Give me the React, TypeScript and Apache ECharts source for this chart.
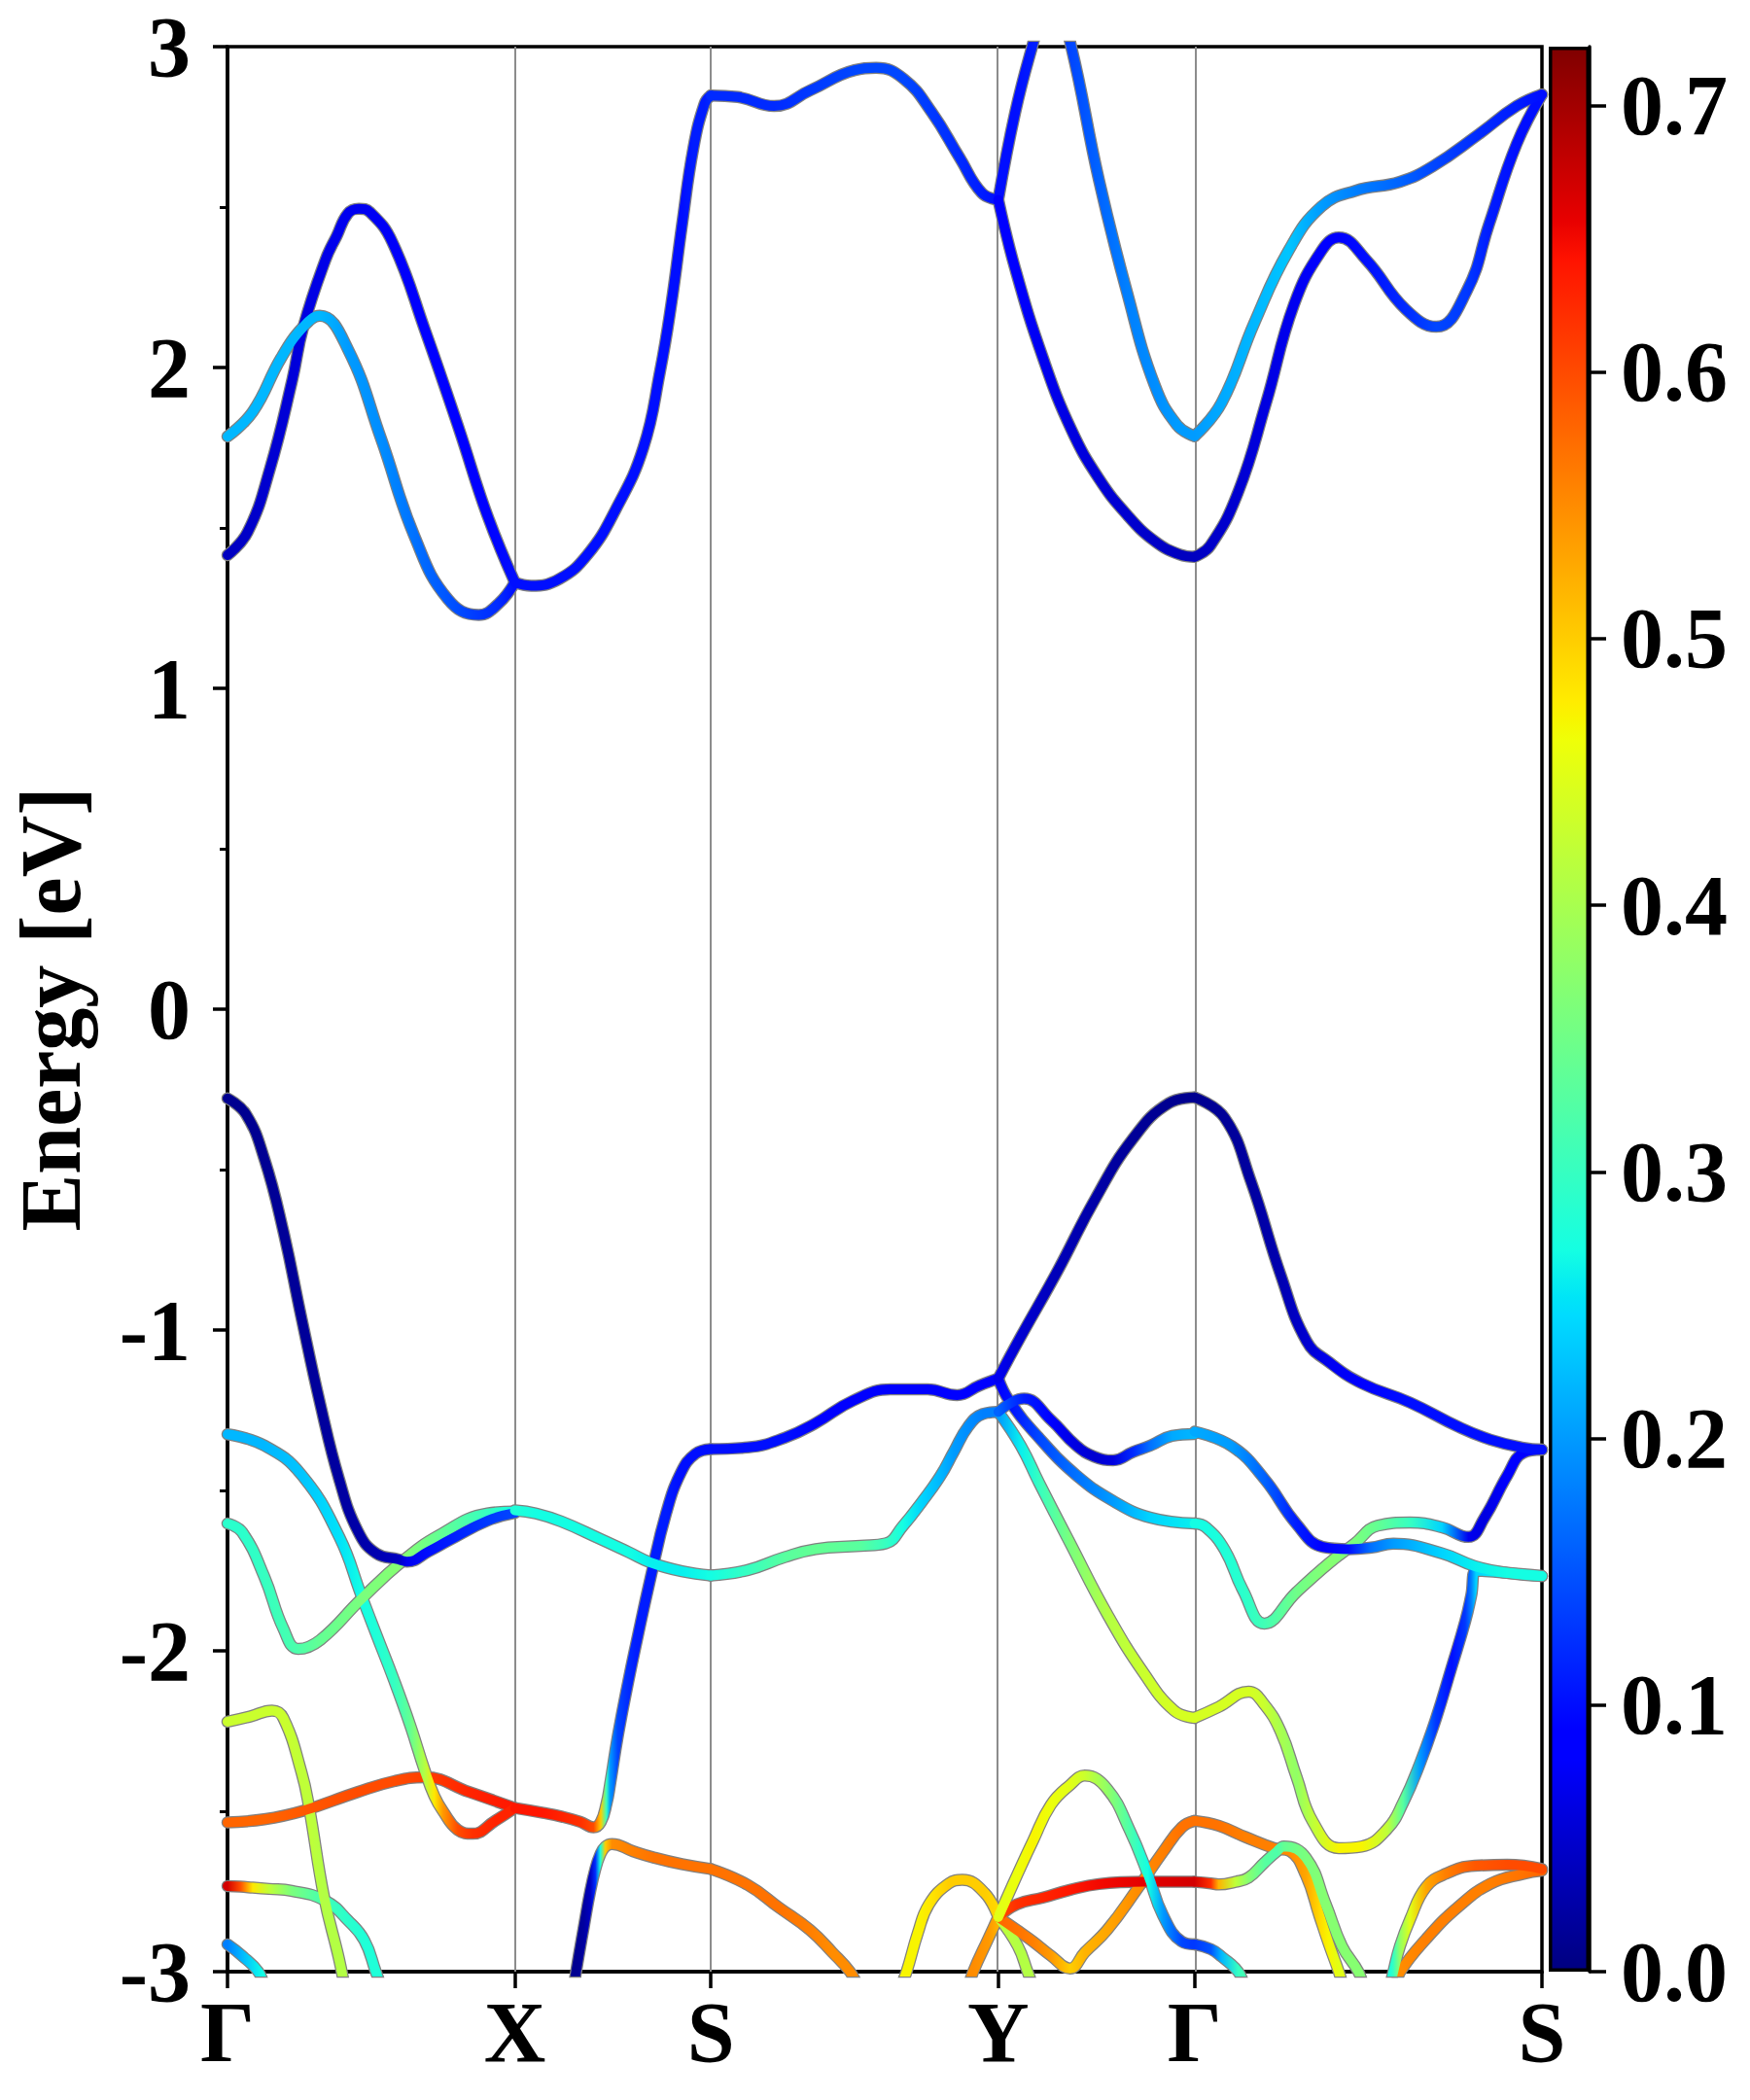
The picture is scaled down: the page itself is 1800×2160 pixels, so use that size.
import React, { useEffect, useRef } from "react";
import * as echarts from "echarts";

// High-symmetry path (k-path distance, Γ–X = 1)
const HS_K = [0, 1, 1.682, 2.682, 3.365, 4.574];
const HS_LABELS = ["Γ", "X", "S", "Y", "Γ", "S"];
const E_TICKS_MIN = -3;
const E_TICKS_MAX = 3;
const W_MAX = 0.722;
const CBAR_TICKS = [0, 0.1, 0.2, 0.3, 0.4, 0.5, 0.6, 0.7];

// Each band piece: [k, energy (eV), weight]
// Γ–X
const GX1 = [[0,1.415,0.04],[0.07,1.487,0.045],[0.147,1.682,0.05],[0.225,1.96,0.055],[0.264,2.127,0.06],[0.341,2.336,0.065],[0.38,2.41,0.068],[0.419,2.48,0.07],[0.457,2.495,0.07],[0.496,2.484,0.072],[0.574,2.39,0.075],[0.689,2.112,0.08],[0.806,1.807,0.085],[0.903,1.542,0.09],[1,1.33,0.1]];
const GX2 = [[0,1.785,0.22],[0.088,1.862,0.22],[0.186,2.029,0.22],[0.264,2.127,0.22],[0.321,2.161,0.22],[0.419,2.057,0.2],[0.534,1.779,0.19],[0.651,1.473,0.17],[0.767,1.278,0.15],[0.874,1.229,0.13],[0.943,1.264,0.12],[1,1.33,0.1]];
const GX3 = [[0,-0.278,0.01],[0.064,-0.327,0.01],[0.128,-0.466,0.012],[0.193,-0.687,0.015],[0.258,-0.965,0.015],[0.323,-1.232,0.018],[0.388,-1.464,0.02],[0.453,-1.626,0.025],[0.517,-1.696,0.03],[0.595,-1.715,0.04],[0.625,-1.722,0.07],[0.7,-1.69,0.1],[0.776,-1.653,0.11],[0.905,-1.594,0.13],[1,-1.57,0.14]];
const GX4 = [[0,-1.325,0.22],[0.128,-1.36,0.22],[0.258,-1.452,0.23],[0.389,-1.645,0.25],[0.466,-1.828,0.27],[0.517,-1.947,0.28],[0.581,-2.095,0.3],[0.635,-2.23,0.34],[0.686,-2.372,0.41],[0.72,-2.453,0.48],[0.75,-2.5,0.54],[0.801,-2.558,0.6],[0.853,-2.57,0.62],[0.931,-2.53,0.63],[1,-2.49,0.63]];
const GX5 = [[0,-2.535,0.58],[0.128,-2.525,0.58],[0.258,-2.5,0.59],[0.453,-2.44,0.6],[0.581,-2.406,0.6],[0.686,-2.394,0.61],[0.841,-2.44,0.63],[1,-2.49,0.64]];
const GX6 = [[0,-1.603,0.29],[0.051,-1.63,0.29],[0.128,-1.769,0.3],[0.194,-1.93,0.31],[0.246,-1.994,0.32],[0.323,-1.966,0.34],[0.466,-1.838,0.36],[0.608,-1.721,0.37],[0.736,-1.64,0.34],[0.905,-1.572,0.3],[1,-1.566,0.27]];
const GX7 = [[0,-2.221,0.43],[0.078,-2.205,0.43],[0.155,-2.186,0.43],[0.194,-2.209,0.43],[0.258,-2.38,0.42],[0.284,-2.488,0.42],[0.336,-2.767,0.41],[0.388,-2.96,0.41],[0.41,-3.06,0.41]];
const GX8 = [[0,-2.733,0.67],[0.044,-2.735,0.6],[0.088,-2.738,0.48],[0.145,-2.742,0.42],[0.223,-2.748,0.36],[0.341,-2.779,0.31],[0.419,-2.84,0.29],[0.476,-2.902,0.28],[0.516,-3.0,0.28],[0.54,-3.06,0.28]];
const GX9 = [[0,-2.915,0.18],[0.05,-2.95,0.22],[0.107,-3.0,0.26],[0.125,-3.04,0.27]];
// X–S
const XS1 = [[1,1.33,0.1],[1.057,1.32,0.1],[1.155,1.341,0.1],[1.253,1.417,0.1],[1.35,1.556,0.1],[1.447,1.75,0.1],[1.505,1.987,0.1],[1.544,2.196,0.1],[1.582,2.447,0.1],[1.621,2.683,0.11],[1.66,2.822,0.11],[1.682,2.848,0.12]];
const XS2 = [[1,-1.562,0.28],[1.074,-1.572,0.27],[1.162,-1.597,0.27],[1.294,-1.65,0.27],[1.395,-1.692,0.27],[1.473,-1.725,0.26],[1.581,-1.752,0.26],[1.682,-1.765,0.27]];
const XS3 = [[1,-2.49,0.64],[1.098,-2.505,0.64],[1.164,-2.517,0.63],[1.228,-2.533,0.62],[1.274,-2.55,0.6],[1.299,-2.533,0.5],[1.319,-2.476,0.3],[1.331,-2.418,0.2],[1.358,-2.267,0.14],[1.395,-2.094,0.12],[1.422,-1.978,0.11],[1.473,-1.769,0.11],[1.526,-1.572,0.11],[1.578,-1.444,0.1],[1.628,-1.386,0.1],[1.682,-1.371,0.1]];
const XS4 = [[1.205,-3.05,0.01],[1.213,-3.0,0.01],[1.24,-2.86,0.02],[1.262,-2.75,0.04],[1.28,-2.68,0.12],[1.297,-2.635,0.27],[1.315,-2.61,0.5],[1.338,-2.602,0.55],[1.412,-2.625,0.56],[1.486,-2.645,0.57],[1.581,-2.665,0.57],[1.682,-2.68,0.57]];
// S–Y
const SY1 = [[1.682,2.848,0.12],[1.776,2.843,0.12],[1.902,2.815,0.12],[2.028,2.864,0.13],[2.183,2.927,0.14],[2.257,2.934,0.14],[2.354,2.899,0.14],[2.451,2.795,0.13],[2.547,2.655,0.12],[2.625,2.544,0.11],[2.682,2.523,0.1]];
const SY2 = [[1.682,-1.371,0.1],[1.811,-1.366,0.1],[1.939,-1.336,0.1],[2.047,-1.29,0.09],[2.177,-1.22,0.09],[2.307,-1.185,0.09],[2.436,-1.185,0.09],[2.539,-1.203,0.09],[2.617,-1.173,0.09],[2.682,-1.151,0.09]];
const SY3 = [[1.682,-1.765,0.27],[1.811,-1.748,0.3],[1.939,-1.708,0.33],[2.047,-1.683,0.34],[2.203,-1.673,0.33],[2.291,-1.665,0.3],[2.351,-1.61,0.27],[2.416,-1.536,0.24],[2.48,-1.456,0.22],[2.527,-1.38,0.2],[2.578,-1.3,0.19],[2.628,-1.262,0.18],[2.682,-1.255,0.18]];
const SY4 = [[1.682,-2.68,0.57],[1.811,-2.73,0.57],[1.919,-2.8,0.57],[2.027,-2.87,0.56],[2.105,-2.94,0.55],[2.166,-3.0,0.55],[2.19,-3.04,0.55]];
const SY5 = [[2.34,-3.05,0.47],[2.363,-3.0,0.47],[2.402,-2.88,0.47],[2.441,-2.79,0.48],[2.51,-2.725,0.5],[2.557,-2.714,0.5],[2.635,-2.755,0.5],[2.682,-2.83,0.49]];
const SY6 = [[2.578,-3.05,0.55],[2.595,-3.0,0.55],[2.649,-2.894,0.54],[2.682,-2.83,0.52]];
// Y–Γ
const YG1 = [[2.682,2.523,0.1],[2.741,2.795,0.1],[2.8,3.0,0.11],[2.868,3.2,0.12],[2.936,3.0,0.14],[3.032,2.586,0.16],[3.129,2.238,0.18],[3.226,1.946,0.19],[3.304,1.821,0.2],[3.365,1.786,0.2]];
const YG2 = [[2.682,2.523,0.09],[2.741,2.308,0.08],[2.838,2.029,0.07],[2.936,1.807,0.06],[3.032,1.654,0.055],[3.129,1.542,0.05],[3.226,1.459,0.045],[3.314,1.417,0.04],[3.365,1.41,0.04]];
const YG3 = [[2.682,-1.151,0.07],[2.759,-1.023,0.05],[2.889,-0.815,0.035],[3.018,-0.594,0.025],[3.147,-0.408,0.015],[3.276,-0.293,0.01],[3.365,-0.275,0.01]];
const YG4 = [[2.682,-1.151,0.09],[2.72,-1.22,0.1],[2.824,-1.336,0.14],[2.953,-1.452,0.17],[3.082,-1.533,0.2],[3.212,-1.585,0.24],[3.365,-1.603,0.26]];
const YG5 = [[2.682,-1.255,0.16],[2.73,-1.225,0.13],[2.772,-1.214,0.11],[2.865,-1.28,0.08],[2.953,-1.36,0.06],[3.017,-1.395,0.05],[3.082,-1.406,0.06],[3.152,-1.38,0.12],[3.212,-1.36,0.17],[3.287,-1.33,0.21],[3.365,-1.324,0.22]];
const YG6 = [[2.682,-1.255,0.2],[2.76,-1.36,0.26],[2.824,-1.476,0.3],[2.932,-1.664,0.36],[3.061,-1.885,0.41],[3.189,-2.07,0.43],[3.294,-2.186,0.44],[3.365,-2.209,0.44]];
const YG7 = [[2.682,-2.83,0.45],[2.747,-2.7,0.46],[2.803,-2.592,0.47],[2.865,-2.48,0.46],[2.932,-2.418,0.45],[2.983,-2.389,0.43],[3.061,-2.43,0.38],[3.139,-2.558,0.32],[3.203,-2.697,0.27],[3.255,-2.824,0.2],[3.32,-2.906,0.14],[3.365,-2.915,0.13]];
const YG8 = [[2.682,-2.83,0.6],[2.747,-2.79,0.62],[2.838,-2.769,0.63],[2.932,-2.745,0.64],[3.032,-2.727,0.65],[3.187,-2.72,0.66],[3.365,-2.72,0.67]];
const YG9 = [[2.682,-2.83,0.58],[2.747,-2.87,0.57],[2.803,-2.906,0.56],[2.865,-2.95,0.54],[2.932,-2.99,0.5],[2.983,-2.94,0.52],[3.061,-2.87,0.53],[3.166,-2.742,0.55],[3.255,-2.627,0.56],[3.321,-2.55,0.57],[3.365,-2.53,0.57]];
const YG10 = [[2.682,-2.83,0.42],[2.75,-2.92,0.41],[2.784,-3.0,0.41],[2.8,-3.04,0.41]];
// Γ–S
const GS1 = [[3.365,1.41,0.04],[3.42,1.445,0.045],[3.517,1.612,0.05],[3.614,1.89,0.06],[3.711,2.196,0.07],[3.807,2.364,0.08],[3.867,2.405,0.085],[3.963,2.335,0.1],[4.099,2.182,0.12],[4.206,2.127,0.14],[4.312,2.238,0.13],[4.39,2.447,0.11],[4.486,2.697,0.1],[4.574,2.851,0.1]];
const GS2 = [[3.365,1.786,0.2],[3.459,1.89,0.21],[3.574,2.141,0.22],[3.692,2.364,0.23],[3.807,2.502,0.2],[3.925,2.551,0.18],[4.08,2.579,0.16],[4.196,2.628,0.14],[4.351,2.725,0.12],[4.486,2.815,0.11],[4.574,2.851,0.1]];
const GS3 = [[3.365,-0.275,0.01],[3.47,-0.339,0.015],[3.561,-0.536,0.02],[3.664,-0.826,0.03],[3.755,-1.035,0.05],[3.833,-1.1,0.07],[3.946,-1.166,0.09],[4.115,-1.226,0.1],[4.284,-1.302,0.1],[4.395,-1.342,0.1],[4.509,-1.367,0.1],[4.574,-1.373,0.1]];
const GS4 = [[3.365,-1.317,0.21],[3.496,-1.363,0.2],[3.608,-1.464,0.16],[3.72,-1.605,0.11],[3.811,-1.676,0.08],[3.901,-1.683,0.1],[3.98,-1.678,0.17],[4.057,-1.666,0.2],[4.226,-1.696,0.24],[4.34,-1.736,0.26],[4.453,-1.757,0.27],[4.574,-1.767,0.27]];
const GS5 = [[3.365,-1.603,0.27],[3.405,-1.615,0.27],[3.47,-1.685,0.28],[3.534,-1.812,0.29],[3.608,-1.915,0.31],[3.72,-1.817,0.35],[3.834,-1.726,0.37],[3.922,-1.666,0.36],[4.002,-1.61,0.34],[4.115,-1.6,0.3],[4.226,-1.615,0.24],[4.318,-1.645,0.07],[4.374,-1.585,0.06],[4.453,-1.454,0.08],[4.509,-1.383,0.09],[4.574,-1.373,0.1]];
const GS6 = [[3.365,-2.209,0.44],[3.449,-2.175,0.44],[3.553,-2.127,0.44],[3.605,-2.164,0.43],[3.665,-2.252,0.4],[3.72,-2.393,0.38],[3.777,-2.533,0.42],[3.867,-2.615,0.47],[3.946,-2.61,0.47],[4.036,-2.555,0.42],[4.091,-2.473,0.33],[4.149,-2.352,0.2],[4.205,-2.212,0.13],[4.26,-2.05,0.1],[4.307,-1.908,0.13],[4.328,-1.827,0.18],[4.345,-1.75,0.24],[4.453,-1.757,0.27],[4.574,-1.767,0.27]];
const GS7 = [[3.365,-2.72,0.67],[3.422,-2.725,0.62],[3.449,-2.728,0.52],[3.507,-2.72,0.42],[3.553,-2.707,0.37],[3.608,-2.66,0.33],[3.652,-2.625,0.32],[3.676,-2.61,0.34],[3.753,-2.645,0.36],[3.821,-2.788,0.37],[3.878,-2.92,0.37],[3.935,-3.0,0.37],[3.95,-3.04,0.37]];
const GS8 = [[3.365,-2.53,0.57],[3.449,-2.545,0.57],[3.541,-2.58,0.56],[3.642,-2.615,0.56],[3.698,-2.625,0.55],[3.753,-2.7,0.53],[3.8,-2.827,0.49],[3.831,-2.91,0.47],[3.867,-3.0,0.45],[3.88,-3.04,0.45]];
const GS9 = [[3.365,-2.915,0.13],[3.422,-2.93,0.15],[3.459,-2.953,0.22],[3.517,-3.0,0.3],[3.535,-3.04,0.31]];
const GS10 = [[4.047,-3.04,0.28],[4.057,-3.0,0.3],[4.08,-2.92,0.38],[4.115,-2.837,0.45],[4.171,-2.736,0.53],[4.239,-2.695,0.56],[4.34,-2.67,0.59],[4.453,-2.667,0.6],[4.574,-2.68,0.6]];
const GS11 = [[4.07,-3.04,0.55],[4.081,-3.0,0.55],[4.171,-2.898,0.56],[4.284,-2.797,0.56],[4.395,-2.726,0.56],[4.509,-2.695,0.57],[4.574,-2.685,0.58]];

const BANDS = [
  GX1, GX2, XS1, SY1, YG1, YG2, GS1, GS2,
  GX9, GX8, GX7, GX5, GX4, GX6, GX3,
  XS4, XS3, XS2,
  SY4, SY5, SY6, SY2, SY3,
  YG10, YG9, YG8, YG7, YG6, YG4, YG5, YG3,
  GS9, GS11, GS10, GS8, GS7, GS6, GS5, GS4, GS3,
];

// matplotlib "jet" colormap definition
const JET_R = [[0, 0], [0.35, 0], [0.66, 1], [0.89, 1], [1, 0.5]];
const JET_G = [[0, 0], [0.125, 0], [0.375, 1], [0.64, 1], [0.91, 0], [1, 0]];
const JET_B = [[0, 0.5], [0.11, 1], [0.34, 1], [0.65, 0], [1, 0]];
const JET_BREAKS = [0, 0.11, 0.125, 0.34, 0.35, 0.375, 0.64, 0.65, 0.66, 0.89, 0.91, 1];

function seg(s: number[][], t: number) {
  for (let i = 1; i < s.length; i++) {
    if (t <= s[i][0]) {
      const [x0, y0] = s[i - 1];
      const [x1, y1] = s[i];
      return y0 + ((y1 - y0) * (t - x0)) / (x1 - x0);
    }
  }
  return s[s.length - 1][1];
}
function jet(t: number) {
  const u = Math.max(0, Math.min(1, t));
  const r = Math.round(255 * seg(JET_R, u));
  const g = Math.round(255 * seg(JET_G, u));
  const b = Math.round(255 * seg(JET_B, u));
  return `rgb(${r},${g},${b})`;
}
function bandGradient(band: number[][]) {
  const k0 = band[0][0];
  const k1 = band[band.length - 1][0];
  return {
    type: "linear",
    x: 0, y: 0, x2: 1, y2: 0,
    global: false,
    colorStops: band.map((p) => ({ offset: (p[0] - k0) / (k1 - k0), color: jet(p[2] / W_MAX) })),
  };
}

const FONT = "'Liberation Serif', 'Times New Roman', serif";

export default function App() {
  const ref = useRef<HTMLDivElement>(null);
  useEffect(() => {
    if (!ref.current) return;
    const chart = echarts.init(ref.current, null, { renderer: "svg" });

    const common = {
      type: "line",
      xAxisIndex: 0,
      yAxisIndex: 0,
      smooth: 0.45,
      symbol: "none",
      showSymbol: false,
      silent: true,
      animation: false,
      emphasis: { disabled: true },
    };
    const outline = BANDS.map((b) => ({
      ...common,
      z: 3,
      data: b.map((p) => [p[0], p[1]]),
      lineStyle: { color: "#808080", width: 12.5, cap: "round", join: "round" },
    }));
    const colored = BANDS.map((b) => ({
      ...common,
      z: 4,
      data: b.map((p) => [p[0], p[1]]),
      lineStyle: { color: bandGradient(b), width: 10, cap: "round", join: "round" },
    }));

    const labelStyle = { fontFamily: FONT, fontWeight: "bold", fontSize: 88, color: "#000" };

    chart.setOption({
      animation: false,
      backgroundColor: "#fff",
      grid: [
        { left: 232, top: 48, width: 1354, height: 1980, show: true, borderColor: "#000", borderWidth: 3.5, backgroundColor: "transparent" },
        { left: 1593, top: 48, width: 42, height: 1980, show: false },
      ],
      xAxis: [
        {
          gridIndex: 0,
          type: "value",
          min: HS_K[0],
          max: HS_K[HS_K.length - 1],
          axisLine: { show: true, onZero: false, lineStyle: { color: "#000", width: 3.5 } },
          axisTick: { show: true, inside: false, length: 17, customValues: HS_K, lineStyle: { color: "#000", width: 3.5 } },
          axisLabel: {
            ...labelStyle,
            margin: 18,
            customValues: HS_K,
            formatter: (v: number) => {
              const i = HS_K.findIndex((h) => Math.abs(h - v) < 1e-6);
              return i >= 0 ? HS_LABELS[i] : "";
            },
          },
          splitLine: { show: false },
        },
        { gridIndex: 1, type: "category", data: ["cb"], show: false, boundaryGap: true },
      ],
      yAxis: [
        {
          gridIndex: 0,
          type: "value",
          min: E_TICKS_MIN,
          max: E_TICKS_MAX,
          interval: 1,
          name: "Energy [eV]",
          nameLocation: "middle",
          nameGap: 138,
          nameTextStyle: { ...labelStyle },
          axisLine: { show: true, onZero: false, lineStyle: { color: "#000", width: 3.5 } },
          axisTick: { show: true, inside: false, length: 15, lineStyle: { color: "#000", width: 3.5 } },
          minorTick: { show: true, splitNumber: 2, length: 8, lineStyle: { color: "#000", width: 3 } },
          axisLabel: { ...labelStyle, margin: 38 },
          splitLine: { show: false },
          minorSplitLine: { show: false },
        },
        {
          gridIndex: 1,
          type: "value",
          position: "right",
          min: 0,
          max: W_MAX,
          axisLine: { show: true, onZero: false, lineStyle: { color: "#000", width: 3.5 } },
          axisTick: { show: true, inside: false, length: 17, customValues: CBAR_TICKS, lineStyle: { color: "#000", width: 3.5 } },
          axisLabel: { ...labelStyle, margin: 32, customValues: CBAR_TICKS, formatter: (v: number) => v.toFixed(1) },
          splitLine: { show: false },
        },
      ],
      series: [
        {
          type: "line",
          xAxisIndex: 0,
          yAxisIndex: 0,
          data: [],
          silent: true,
          z: 1,
          markLine: {
            silent: true,
            symbol: ["none", "none"],
            label: { show: false },
            animation: false,
            z: 1,
            lineStyle: { color: "#8c8c8c", width: 2, type: "solid" },
            emphasis: { disabled: true },
            data: HS_K.slice(1, -1).map((k) => ({ xAxis: k })),
          },
        },
        ...outline,
        ...colored,
        {
          type: "bar",
          xAxisIndex: 1,
          yAxisIndex: 1,
          data: [W_MAX],
          barWidth: "100%",
          silent: true,
          z: 2,
          itemStyle: {
            color: {
              type: "linear",
              x: 0, y: 1, x2: 0, y2: 0,
              colorStops: JET_BREAKS.map((t) => ({ offset: t, color: jet(t) })),
            },
            borderColor: "#000",
            borderWidth: 3.5,
          },
        },
      ],
    });
    return () => chart.dispose();
  }, []);
  return (
    <div
      ref={ref}
      style={{ position: "absolute", left: 0, top: 0, width: 1800, height: 2160, background: "#fff" }}
    />
  );
}
